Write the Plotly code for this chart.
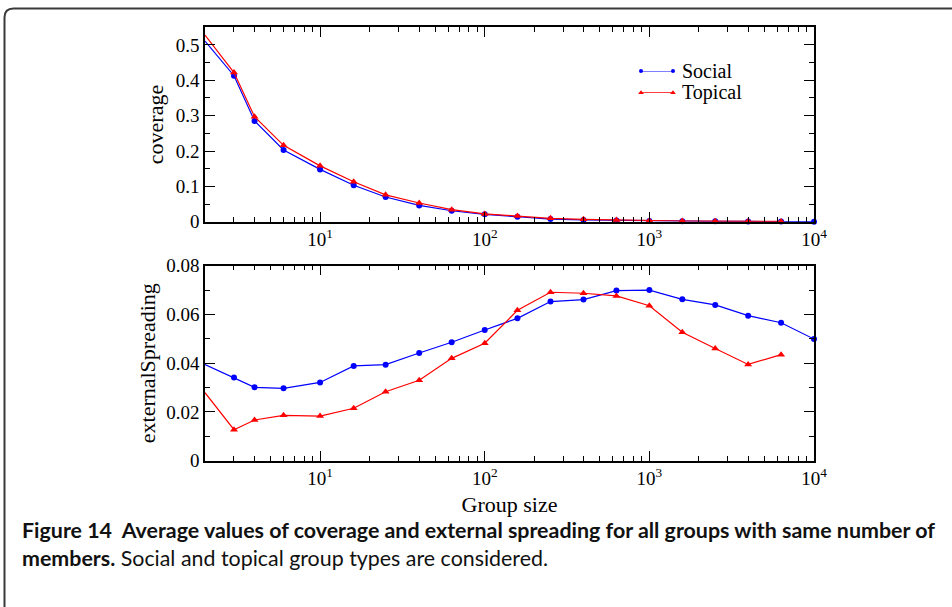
import plotly.graph_objects as go

# Group sizes (log-spaced bins)
group_size = [2, 3, 4, 6, 10, 16, 25, 40, 63, 100, 158, 251, 398, 631,
              1000, 1585, 2512, 3981, 6310, 10000]

coverage_social = [0.511, 0.413, 0.285, 0.203, 0.148, 0.103, 0.070, 0.046,
                   0.031, 0.021, 0.014, 0.0075, 0.005, 0.0035, 0.002,
                   0.0015, 0.001, 0.0007, 0.0004, 0.0002]
coverage_topical = [0.528, 0.422, 0.297, 0.216, 0.158, 0.113, 0.076, 0.053,
                    0.034, 0.022, 0.016, 0.0095, 0.0066, 0.0047, 0.003,
                    0.002, 0.0015, 0.001, 0.0007]

spreading_social = [0.0394, 0.0341, 0.0301, 0.0297, 0.0321, 0.0389, 0.0394,
                    0.0442, 0.0486, 0.0536, 0.0584, 0.0653, 0.0661, 0.0698,
                    0.0700, 0.0662, 0.0639, 0.0595, 0.0566, 0.0499]
spreading_topical = [0.0279, 0.0127, 0.0167, 0.0186, 0.0183, 0.0215, 0.0283,
                     0.0330, 0.0420, 0.0482, 0.0617, 0.0691, 0.0687, 0.0676,
                     0.0636, 0.0527, 0.0460, 0.0395, 0.0435]

series_names = ["Social", "Topical"]

x_tick_vals = [10, 100, 1000, 10000]
x_tick_text = ["10<sup>1</sup>", "10<sup>2</sup>", "10<sup>3</sup>", "10<sup>4</sup>"]
x_minor_vals = [m * d for d in (1, 10, 100, 1000) for m in range(2, 10)]

W, H = 952, 607
SERIF = "Liberation Serif, Times New Roman, serif"
BLUE = "#0000ff"
RED = "#ff0000"
SOCIAL_MARKER = dict(symbol="circle", size=6, color=BLUE)
TOPICAL_MARKER = dict(symbol="triangle-up", size=7, color=RED)


def px_x(p):
    return p / W


def px_y(p):
    return 1 - p / H


fig = go.Figure()

# coverage panel
fig.add_trace(go.Scatter(x=group_size, y=coverage_social, name=series_names[0],
                         mode="lines+markers", cliponaxis=False,
                         line=dict(color=BLUE, width=1.2), marker=SOCIAL_MARKER,
                         xaxis="x", yaxis="y"))
fig.add_trace(go.Scatter(x=group_size[:len(coverage_topical)], y=coverage_topical,
                         name=series_names[1], mode="lines+markers", cliponaxis=False,
                         line=dict(color=RED, width=1.2), marker=TOPICAL_MARKER,
                         xaxis="x", yaxis="y"))

# external spreading panel
fig.add_trace(go.Scatter(x=group_size, y=spreading_social, name=series_names[0],
                         mode="lines+markers", cliponaxis=False,
                         line=dict(color=BLUE, width=1.2), marker=SOCIAL_MARKER,
                         xaxis="x2", yaxis="y2"))
fig.add_trace(go.Scatter(x=group_size[:len(spreading_topical)], y=spreading_topical,
                         name=series_names[1], mode="lines+markers", cliponaxis=False,
                         line=dict(color=RED, width=1.2), marker=TOPICAL_MARKER,
                         xaxis="x2", yaxis="y2"))

# legend keys: short lines with a marker at each end, on a hidden key axis
for i, (name, color, marker) in enumerate(
        [(series_names[0], BLUE, SOCIAL_MARKER), (series_names[1], RED, TOPICAL_MARKER)]):
    key_marker = dict(marker, size=marker["size"] - 2)
    fig.add_trace(go.Scatter(x=[0, 1], y=[1 - i, 1 - i], mode="lines+markers",
                             cliponaxis=False, hoverinfo="skip",
                             line=dict(color=color, width=1.2), marker=key_marker,
                             xaxis="x3", yaxis="y3"))

x_common = dict(
    type="log", range=[0.30103, 4], tickmode="array",
    tickvals=x_tick_vals, ticktext=x_tick_text,
    ticks="inside", ticklen=10, tickwidth=1, tickcolor="black",
    minor=dict(tickvals=x_minor_vals, ticks="inside", ticklen=5,
               tickwidth=1, tickcolor="black"),
    showline=True, linecolor="black", linewidth=1.5, mirror="allticks",
    showgrid=False, zeroline=False, automargin=False,
    tickfont=dict(family=SERIF, size=19, color="black"),
)
y_common = dict(
    ticks="inside", ticklen=10, tickwidth=1, tickcolor="black",
    showline=True, linecolor="black", linewidth=1.5, mirror="allticks",
    showgrid=False, zeroline=False, automargin=False,
    tickfont=dict(family=SERIF, size=19, color="black"),
)
TITLE_FONT = dict(family=SERIF, size=22, color="black")

fig.update_layout(
    width=W, height=H, autosize=False,
    margin=dict(l=0, r=0, t=0, b=0, pad=0),
    paper_bgcolor="white", plot_bgcolor="white",
    showlegend=False,
    xaxis=dict(domain=[px_x(205), px_x(814)], anchor="y", **x_common),
    yaxis=dict(domain=[px_y(221.7), px_y(27.3)], anchor="x",
               range=[0, 0.55], dtick=0.1,
               minor=dict(dtick=0.05, ticks="inside", ticklen=5,
                          tickwidth=1, tickcolor="black"),
               title=dict(text="coverage", standoff=6, font=TITLE_FONT),
               **y_common),
    xaxis2=dict(domain=[px_x(205), px_x(814)], anchor="y2",
                title=dict(text="Group size", standoff=8, font=TITLE_FONT),
                **x_common),
    yaxis2=dict(domain=[px_y(460.7), px_y(265.7)], anchor="x2",
                range=[0, 0.08], dtick=0.02,
                minor=dict(dtick=0.01, ticks="inside", ticklen=5,
                           tickwidth=1, tickcolor="black"),
                title=dict(text="externalSpreading", standoff=4, font=TITLE_FONT),
                **y_common),
    xaxis3=dict(domain=[px_x(641), px_x(673)], range=[0, 1], visible=False,
                fixedrange=True, automargin=False),
    yaxis3=dict(domain=[px_y(92.7), px_y(71)], range=[0, 1], visible=False,
                fixedrange=True, automargin=False, anchor="x3"),
)

# legend labels
for i, name in enumerate(series_names):
    fig.add_annotation(text=name, x=px_x(680), y=px_y(71 + 21.7 * i),
                       xref="paper", yref="paper", xanchor="left", yanchor="middle",
                       showarrow=False, font=dict(family=SERIF, size=20, color="black"))

# Rounded frame around the figure
x0, y0, r = px_x(4.5), px_y(8.5), 9
frame_path = (f"M {x0},{px_y(607)} L {x0},{px_y(8.5 + r)} "
              f"Q {x0},{y0} {px_x(4.5 + r)},{y0} L {px_x(952)},{y0}")
fig.add_shape(type="path", path=frame_path, xref="paper", yref="paper",
              line=dict(color="#3a3a3a", width=2))

CAPTION_FONT = "Lato, Noto Sans, sans-serif"
fig.add_annotation(
    text="<b>Figure 14&nbsp; Average values of coverage and external spreading "
         "for all groups with same number of</b>",
    x=px_x(20), y=px_y(530), xref="paper", yref="paper",
    xanchor="left", yanchor="middle", showarrow=False, align="left",
    font=dict(family=CAPTION_FONT, size=21.4, color="#111111"))
fig.add_annotation(
    text="<b>members.</b> Social and topical group types are considered.",
    x=px_x(20), y=px_y(558), xref="paper", yref="paper",
    xanchor="left", yanchor="middle", showarrow=False, align="left",
    font=dict(family=CAPTION_FONT, size=21.4, color="#111111"))

fig.write_html("out.html")
